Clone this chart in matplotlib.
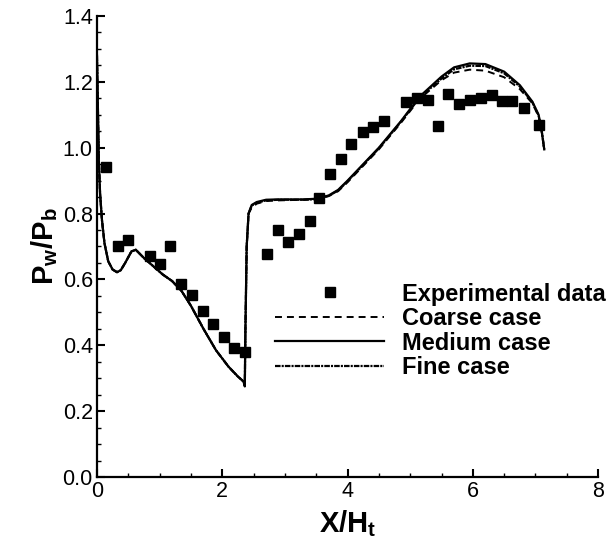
import numpy as np
import matplotlib
matplotlib.use('Agg')
import matplotlib.pyplot as plt

plt.rcParams['font.family'] = ['Liberation Sans', 'DejaVu Sans']
plt.rcParams['lines.scale_dashes'] = False

# Experimental wall pressure data
x_exp = [0.14, 0.33, 0.49, 0.84, 1.00, 1.17, 1.34, 1.51, 1.70, 1.86, 2.03, 2.19, 2.36,
         2.72, 2.89, 3.05, 3.23, 3.40, 3.55, 3.72, 3.90, 4.06, 4.24, 4.41, 4.58,
         4.93, 5.11, 5.28, 5.44, 5.61, 5.78, 5.96, 6.13, 6.30, 6.46, 6.63, 6.81, 7.05]
y_exp = [0.94, 0.70, 0.72, 0.67, 0.647, 0.70, 0.587, 0.552, 0.504, 0.465, 0.425, 0.392, 0.379,
         0.677, 0.751, 0.713, 0.738, 0.778, 0.846, 0.92, 0.965, 1.01, 1.047, 1.062, 1.08,
         1.14, 1.15, 1.145, 1.067, 1.163, 1.133, 1.145, 1.15, 1.16, 1.143, 1.143, 1.12, 1.07]

# Simulation curves
x_sim = [0.0, 0.015, 0.03, 0.05, 0.08, 0.12, 0.18, 0.25, 0.32, 0.38, 0.45, 0.55, 0.62, 0.75, 0.90,
         1.05, 1.20, 1.35, 1.50, 1.70, 1.90, 2.10, 2.25, 2.34, 2.36, 2.37, 2.39, 2.42, 2.47,
         2.55, 2.70, 2.90, 3.10, 3.30, 3.50, 3.70, 3.85, 4.00, 4.20, 4.50, 4.85, 5.15, 5.50,
         5.70, 5.95, 6.20, 6.50, 6.75, 6.95, 7.05, 7.10, 7.14]
y_medium = [1.28, 1.12, 0.96, 0.86, 0.78, 0.71, 0.655, 0.63, 0.622, 0.628, 0.65, 0.685, 0.69, 0.665, 0.64,
            0.615, 0.595, 0.565, 0.52, 0.45, 0.385, 0.335, 0.305, 0.29, 0.275, 0.45, 0.70, 0.80, 0.826,
            0.835, 0.842, 0.843, 0.843, 0.843, 0.845, 0.855, 0.872, 0.90, 0.94, 1.00, 1.08, 1.155, 1.216,
            1.244, 1.256, 1.254, 1.231, 1.19, 1.14, 1.10, 1.05, 0.995]
y_coarse = [1.28, 1.12, 0.96, 0.86, 0.78, 0.71, 0.655, 0.63, 0.622, 0.628, 0.65, 0.685, 0.69, 0.665, 0.64,
            0.615, 0.595, 0.565, 0.52, 0.45, 0.385, 0.335, 0.305, 0.29, 0.28, 0.45, 0.70, 0.80, 0.818,
            0.83, 0.838, 0.84, 0.841, 0.842, 0.844, 0.853, 0.868, 0.895, 0.935, 0.995, 1.075, 1.148, 1.205,
            1.228, 1.237, 1.234, 1.214, 1.178, 1.135, 1.095, 1.048, 0.995]
y_fine = [1.28, 1.12, 0.96, 0.86, 0.78, 0.71, 0.655, 0.63, 0.622, 0.628, 0.65, 0.685, 0.69, 0.665, 0.64,
          0.615, 0.595, 0.565, 0.52, 0.45, 0.385, 0.335, 0.305, 0.29, 0.278, 0.45, 0.70, 0.80, 0.824,
          0.833, 0.84, 0.842, 0.842, 0.842, 0.844, 0.854, 0.87, 0.898, 0.938, 0.998, 1.078, 1.152, 1.21,
          1.238, 1.249, 1.248, 1.226, 1.186, 1.138, 1.098, 1.05, 0.995]

fig = plt.figure(figsize=(6.06, 5.46), dpi=100)
ax = fig.add_axes([0.160, 0.1264, 0.827, 0.8443])

ax.plot(x_exp, y_exp, 's', color='black', ms=7.5, label='Experimental data', zorder=3)
ax.plot(x_sim, y_coarse, color='black', lw=1.4, dashes=(5, 3.6), label='Coarse case')
ax.plot(x_sim, y_medium, color='black', lw=1.6, label='Medium case')
ax.plot(x_sim, y_fine, color='black', lw=1.6, dashes=(4, 0.8, 1.5, 0.8), label='Fine case')

ax.set_xlim(0, 8)
ax.set_ylim(0, 1.4)
ax.set_xticks([0, 2, 4, 6, 8])
ax.set_xticks(np.arange(0, 8.01, 0.5), minor=True)
ax.set_yticks(np.arange(0, 1.41, 0.2))
ax.set_yticks(np.arange(0, 1.41, 0.05), minor=True)
ax.set_xticklabels(['0', '2', '4', '6', '8'])
ax.set_yticklabels(['%.1f' % v for v in np.arange(0, 1.41, 0.2)])

for s in ['top', 'right']:
    ax.spines[s].set_visible(False)
for s in ['left', 'bottom']:
    ax.spines[s].set_linewidth(1.6)
ax.tick_params(which='major', direction='in', length=6, width=1.5, labelsize=15.5, pad=3)
ax.tick_params(which='minor', direction='in', length=3, width=1.0)

ax.set_xlabel(r'X/H$_\mathregular{t}$', fontsize=21, fontweight='bold', labelpad=4)
ax.set_ylabel(r'P$_\mathregular{w}$/P$_\mathregular{b}$', fontsize=21, fontweight='bold', labelpad=2)

leg = ax.legend(loc='upper left', bbox_to_anchor=(0.337, 0.442), frameon=False,
                handlelength=4.6, handletextpad=0.75, labelspacing=0.06,
                borderaxespad=0.0, prop={'size': 17, 'weight': 'bold'})

fig.savefig('out.png', dpi=100)
